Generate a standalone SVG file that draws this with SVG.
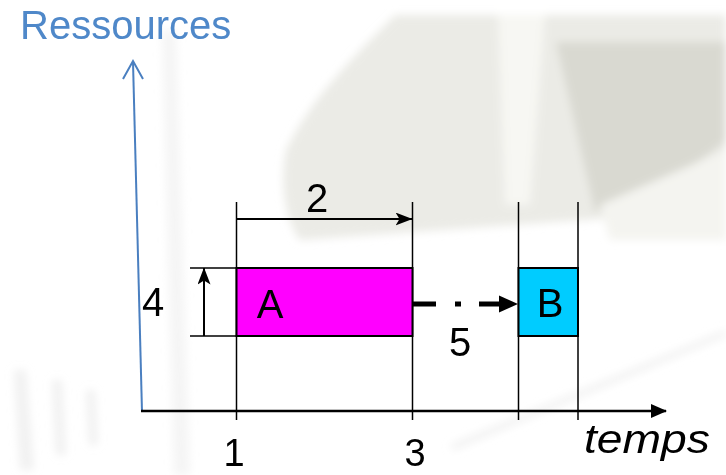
<svg xmlns="http://www.w3.org/2000/svg" width="726" height="475" viewBox="0 0 726 475">
  <defs>
    <style>
      text { font-family: "Liberation Sans", Arial, sans-serif; fill: #000; }
      .lbl { font-size: 40px; text-anchor: middle; }
      .tick { font-size: 38px; text-anchor: middle; }
      .guide { stroke: #000; stroke-width: 1.5; fill: none; }
      .bg { stroke: none; }
    </style>
    <filter id="blur" x="-20%" y="-20%" width="140%" height="140%">
      <feGaussianBlur stdDeviation="4"/>
    </filter>
    <marker id="axisHead" viewBox="0 0 16 16" refX="15" refY="8" markerWidth="16" markerHeight="16" markerUnits="userSpaceOnUse" orient="auto">
      <path d="M0,1 L16,8 L0,15 Z" fill="#000"/>
    </marker>
    <marker id="dimHead" viewBox="0 0 17 13" refX="16.5" refY="6.5" markerWidth="17" markerHeight="13" markerUnits="userSpaceOnUse" orient="auto">
      <path d="M0,0 L17,6.5 L0,13 L4,6.5 Z" fill="#000"/>
    </marker>
  </defs>

  <rect width="726" height="475" fill="#ffffff"/>

  <!-- faded background photo -->
  <g id="background" filter="url(#blur)">
    <path class="bg" d="M395,15 L726,15 L726,210 L300,240 C284,220 280,180 286,150 C310,100 350,60 395,15 Z" fill="#ebebe6"/>
    <path class="bg" d="M498,15 L545,15 L530,205 L505,205 Z" fill="#f7f7f3"/>
    <path class="bg" d="M556,42 L726,42 L726,140 C700,165 650,190 595,212 Z" fill="#d9d9d1"/>
    <path class="bg" d="M600,205 L726,150 L726,240 L610,240 Z" fill="#f4f4f0"/>
    <path class="bg" d="M162,30 L176,30 L190,475 L174,475 Z" fill="#efefef" opacity="0.6"/>
    <path class="bg" d="M14,370 L26,370 L34,470 L20,470 Z M52,380 L62,380 L66,455 L56,455 Z M86,390 L95,390 L98,445 L89,445 Z" fill="#e4e4e4" opacity="0.5"/>
    <path class="bg" d="M450,445 L726,330 L726,336 L454,450 Z" fill="#f0f0f0"/>
  </g>

  <!-- connectors and guides -->
  <g id="connectors">
    <!-- Y axis (blue, open arrowhead) -->
    <line x1="142" y1="412" x2="133" y2="62" stroke="#4a7fc0" stroke-width="2"/>
    <polyline points="123,79 133,61 143,79" fill="none" stroke="#4a7fc0" stroke-width="2"/>
    <!-- X axis -->
    <line x1="141" y1="411" x2="666" y2="411" stroke="#000" stroke-width="2.5" marker-end="url(#axisHead)"/>
    <!-- vertical guides -->
    <line class="guide" x1="236.5" y1="202" x2="236.5" y2="420"/>
    <line class="guide" x1="412.5" y1="202" x2="412.5" y2="420"/>
    <line class="guide" x1="518.5" y1="202" x2="518.5" y2="420"/>
    <line class="guide" x1="578" y1="202" x2="578" y2="420"/>
    <!-- horizontal guides for height -->
    <line class="guide" x1="190" y1="268" x2="237" y2="268"/>
    <line class="guide" x1="190" y1="336" x2="237" y2="336"/>
    <!-- duration dimension arrow -->
    <line x1="236" y1="219" x2="412" y2="219" stroke="#000" stroke-width="2" marker-end="url(#dimHead)"/>
    <!-- height dimension arrow -->
    <line x1="204" y1="336" x2="204" y2="268" stroke="#000" stroke-width="2" marker-end="url(#dimHead)"/>
    <!-- dependency A -> B (dash-dot, thick) -->
    <line x1="412" y1="304" x2="500" y2="304" stroke="#000" stroke-width="5" stroke-dasharray="24,19,6,18,21,100"/>
    <path d="M499,295.5 L518,304 L499,312.5 Z" fill="#000"/>
  </g>

  <g id="node-A">
    <rect x="236.5" y="268" width="176" height="68" fill="#ff00ff" stroke="#000" stroke-width="2"/>
    <text class="lbl" x="270" y="318">A</text>
  </g>

  <g id="node-B">
    <rect x="518.5" y="268" width="59.5" height="68" fill="#00ccff" stroke="#000" stroke-width="2"/>
    <text class="lbl" x="550" y="317">B</text>
  </g>

  <g id="labels">
    <text x="20" y="39" font-size="40" style="fill:#4f88c9">Ressources</text>
    <text class="lbl" x="317" y="212">2</text>
    <text class="lbl" x="153" y="316">4</text>
    <text class="lbl" x="460" y="356">5</text>
    <text class="tick" x="234" y="466">1</text>
    <text class="tick" x="415" y="466">3</text>
    <text x="584" y="453" font-size="40" font-style="italic" textLength="126" lengthAdjust="spacingAndGlyphs">temps</text>
  </g>
</svg>
